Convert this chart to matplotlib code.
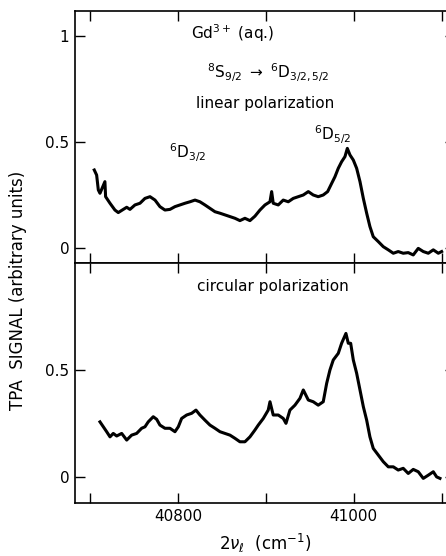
import matplotlib.pyplot as plt
import numpy as np

# linear polarization trace
lin_x = [40704.9, 40707.6, 40709.5, 40711.4, 40717.0, 40717.8, 40722.8, 40728.4, 40732.2,
         40737.9, 40741.8, 40745.5, 40751.2, 40756.9, 40762.6, 40768.3, 40774.0, 40779.6,
         40785.3, 40791.0, 40796.7, 40802.4, 40808.1, 40813.8, 40819.5, 40825.1, 40830.8,
         40836.5, 40842.2, 40847.9, 40853.6, 40859.3, 40865.0, 40870.6, 40876.3, 40882.0,
         40887.7, 40893.4, 40899.1, 40904.8, 40906.7, 40908.5, 40914.2, 40919.9, 40925.6,
         40931.3, 40937.0, 40942.7, 40948.4, 40954.0, 40959.7, 40965.4, 40970.4, 40975.0,
         40978.7, 40982.5, 40986.3, 40990.1, 40992.8, 40995.8, 40999.6, 41003.4, 41007.2,
         41011.0, 41014.8, 41018.5, 41022.3, 41028.0, 41033.7, 41039.4, 41045.1, 41050.7,
         41056.4, 41062.1, 41067.8, 41073.5, 41079.2, 41084.9, 41090.6, 41096.3, 41100.1]
lin_y = [0.368, 0.344, 0.274, 0.258, 0.313, 0.242, 0.211, 0.179, 0.167,
         0.182, 0.192, 0.182, 0.203, 0.211, 0.234, 0.242, 0.226, 0.195,
         0.179, 0.182, 0.195, 0.203, 0.211, 0.218, 0.226, 0.218, 0.203,
         0.187, 0.171, 0.164, 0.156, 0.148, 0.140, 0.129, 0.140, 0.129,
         0.150, 0.179, 0.203, 0.218, 0.266, 0.211, 0.203, 0.226, 0.218,
         0.234, 0.242, 0.250, 0.266, 0.250, 0.242, 0.250, 0.266, 0.305,
         0.336, 0.376, 0.407, 0.431, 0.470, 0.439, 0.415, 0.376, 0.313,
         0.234, 0.164, 0.101, 0.053, 0.030, 0.006, -0.009, -0.025, -0.017,
         -0.025, -0.022, -0.033, -0.002, -0.017, -0.025, -0.009, -0.025, -0.017]

# circular polarization trace
circ_x = [40711.4, 40715.2, 40719.0, 40722.8, 40726.5, 40730.4, 40736.1, 40741.8, 40747.4,
          40753.1, 40758.8, 40762.6, 40766.3, 40772.0, 40775.9, 40779.6, 40785.3, 40791.0,
          40796.7, 40800.5, 40804.3, 40810.0, 40815.7, 40820.6, 40825.1, 40830.8, 40836.5,
          40842.2, 40847.9, 40853.6, 40859.3, 40865.0, 40870.6, 40876.3, 40882.0, 40887.7,
          40891.5, 40897.2, 40902.8, 40904.8, 40908.5, 40914.2, 40919.9, 40923.0, 40927.5,
          40933.2, 40938.9, 40942.7, 40948.4, 40954.0, 40959.7, 40965.4, 40969.3, 40973.0,
          40976.8, 40982.5, 40986.3, 40991.2, 40993.9, 40996.6, 40999.6, 41003.4, 41007.2,
          41011.0, 41014.8, 41018.5, 41022.3, 41028.0, 41033.7, 41039.4, 41045.1, 41050.7,
          41056.4, 41062.1, 41067.8, 41073.5, 41079.2, 41084.9, 41090.6, 41094.4, 41098.2]
circ_y = [0.258, 0.235, 0.212, 0.188, 0.204, 0.192, 0.204, 0.173, 0.196,
          0.204, 0.228, 0.235, 0.258, 0.282, 0.270, 0.243, 0.228, 0.228,
          0.212, 0.235, 0.274, 0.290, 0.298, 0.313, 0.290, 0.266, 0.243,
          0.228, 0.212, 0.204, 0.196, 0.181, 0.165, 0.165, 0.188, 0.220,
          0.243, 0.274, 0.313, 0.352, 0.290, 0.290, 0.274, 0.251, 0.313,
          0.336, 0.368, 0.407, 0.360, 0.352, 0.336, 0.352, 0.438, 0.500,
          0.547, 0.578, 0.625, 0.671, 0.625, 0.625, 0.547, 0.485, 0.407,
          0.329, 0.266, 0.188, 0.134, 0.103, 0.072, 0.048, 0.048, 0.033,
          0.041, 0.017, 0.036, 0.025, -0.006, 0.009, 0.025, 0.001, -0.006]

x_ticks = [40700, 40800, 40900, 41000, 41100]
x_ticklabels = ['', '40800', '', '41000', '']

plt.rcParams['font.family'] = 'DejaVu Sans'
fig = plt.figure(figsize=(4.46, 5.56), dpi=100)
# right spine sits just past the figure edge, as in the cropped original
ax1 = fig.add_axes([0.168, 0.527, 0.852, 0.453])
ax2 = fig.add_axes([0.168, 0.0953, 0.852, 0.4317])

for ax in (ax1, ax2):
    ax.set_xlim(40682.9, 41115.2)
    ax.set_xticks(x_ticks)
    ax.tick_params(direction='in', length=7, width=1, top=True, right=True,
                   labelsize=11, pad=4)
    for s in ax.spines.values():
        s.set_linewidth(1.2)

ax1.plot(lin_x, lin_y, color='black', linewidth=2.2)
ax1.set_ylim(-0.071, 1.118)
ax1.set_yticks([0, 0.5, 1])
ax1.set_yticklabels(['0', '0.5', '1'])
ax1.set_xticklabels([])

ax2.plot(circ_x, circ_y, color='black', linewidth=2.2)
ax2.set_ylim(-0.121, 1.0)
ax2.set_yticks([0, 0.5])
ax2.set_yticklabels(['0', '0.5'])
ax2.set_xticklabels(x_ticklabels)
ax2.set_xlabel(r'$2\nu_\ell$  (cm$^{-1}$)', fontsize=12, labelpad=6)

ax1.text(0.416, 0.913, r'Gd$^{3+}$ (aq.)', transform=ax1.transAxes, ha='center', va='center', fontsize=11)
ax1.text(0.508, 0.758, r'$^8$S$_{9/2}$ $\rightarrow$ $^6$D$_{3/2,5/2}$', transform=ax1.transAxes,
         ha='center', va='center', fontsize=11)
ax1.text(0.500, 0.635, 'linear polarization', transform=ax1.transAxes, ha='center', va='center', fontsize=11)
ax1.text(0.295, 0.437, r'$^6$D$_{3/2}$', transform=ax1.transAxes, ha='center', va='center', fontsize=11)
ax1.text(0.679, 0.508, r'$^6$D$_{5/2}$', transform=ax1.transAxes, ha='center', va='center', fontsize=11)
ax2.text(0.521, 0.90, 'circular polarization', transform=ax2.transAxes, ha='center', va='center', fontsize=11)

fig.text(0.04, 0.478, 'TPA  SIGNAL (arbitrary units)', rotation=90, ha='center', va='center', fontsize=12)

fig.savefig('out.png', dpi=100)
